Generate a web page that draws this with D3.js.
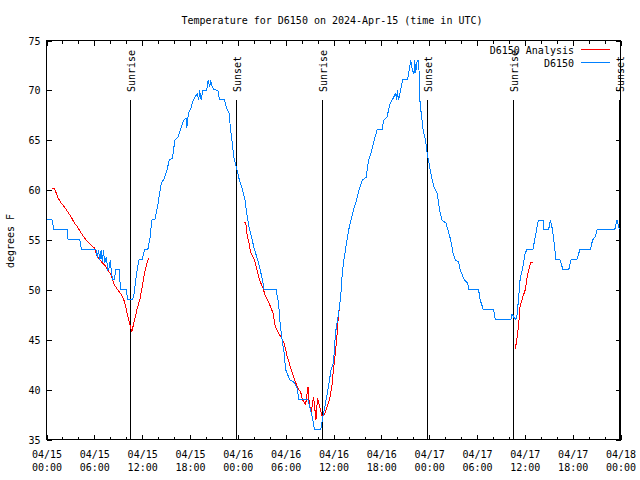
<!DOCTYPE html>
<html><head><meta charset="utf-8">
<script src="https://cdn.jsdelivr.net/npm/d3@7"></script>
<style>
body{margin:0;background:#fff;}
svg{display:block;}
text{font-family:"DejaVu Sans Mono","Liberation Mono",monospace;font-size:10px;fill:#000;}
</style></head>
<body>
<svg id="c" width="640" height="480"></svg>
<script>
const titleText = "Temperature for D6150 on 2024-Apr-15 (time in UTC)";
const yLabel = "degrees F";
const seriesNames = ["D6150 Analysis", "D6150"];
const seriesColors = ["#ff0000", "#0080ff"];
const yTicks = [35, 40, 45, 50, 55, 60, 65, 70, 75];
const startTime = "2024-04-15T00:00:00Z";
const endTime = "2024-04-18T00:00:00Z";

// sun events: hours after start
const sunHours = [10.5, 23.8, 34.54, 47.7, 58.5, 71.83];
const sunLabels = ["Sunrise", "Sunset", "Sunrise", "Sunset", "Sunrise", "Sunset"];

// observed D6150 (hours after start, deg F)
const obsHours = [0.0,0.67,0.9,2.65,2.7,4.15,4.4,6.2,6.4,6.5,6.7,6.85,7.0,7.15,7.3,7.5,7.7,7.9,8.0,8.15,8.3,8.5,8.7,9.1,9.3,10.0,10.2,10.8,11.0,11.3,11.6,12.0,12.3,12.7,13.0,13.2,13.6,14.0,14.4,14.8,15.1,15.4,15.8,16.1,16.5,16.8,17.2,17.5,17.6,17.8,18.1,18.4,18.9,19.1,19.2,19.4,19.6,20.1,20.2,20.3,20.45,20.6,20.8,21.0,21.5,21.7,22.3,22.6,22.9,23.1,23.3,23.5,23.8,24.2,24.6,24.9,25.1,25.4,25.8,26.1,26.5,26.8,27.1,27.3,28.8,29.1,29.3,29.5,29.8,30.0,30.5,31.1,31.5,31.6,32.8,33.1,33.4,33.6,34.4,34.6,34.85,35.3,35.7,36.0,36.25,36.45,36.7,36.9,37.1,37.3,37.5,37.7,37.9,38.2,38.5,38.9,39.2,39.6,40.1,40.4,40.8,41.1,41.5,42.1,42.3,42.7,43.1,43.4,43.8,43.9,44.0,44.15,44.4,44.7,45.3,45.7,45.9,46.1,46.2,46.3,46.5,46.7,46.8,47.0,47.25,47.55,47.75,48.2,48.6,49.0,49.3,49.6,50.1,50.35,50.7,51.0,51.3,51.7,51.9,52.4,52.8,53.0,54.2,54.4,54.8,56.1,56.3,58.25,58.4,58.6,58.8,59.0,59.2,59.4,59.75,60.05,60.25,61.0,61.3,61.7,62.3,62.4,63.0,63.2,63.4,63.6,63.9,64.4,64.8,65.5,65.8,66.5,66.9,68.2,68.5,68.8,69.1,71.3,71.55,71.85];
const obsTemps = [57.1,57.1,56.1,56.1,55.1,55.1,54.0,54.0,53.2,54.0,53.0,54.0,52.8,54.0,52.7,53.3,52.0,52.3,53.0,51.7,51.0,51.0,52.0,52.0,50.0,50.0,49.0,49.0,49.7,51.7,53.0,53.0,54.0,54.0,55.3,57.0,57.1,58.7,60.7,61.2,62.0,63.0,63.2,65.0,65.3,66.1,67.0,67.2,66.2,67.7,68.2,69.0,69.7,69.0,70.0,69.0,70.0,70.0,70.7,71.0,70.3,71.0,70.3,70.1,70.0,69.1,69.1,68.2,67.7,66.0,64.7,63.3,62.3,61.0,60.0,59.0,57.7,56.3,55.0,54.0,53.0,52.0,51.0,50.0,50.0,48.7,46.7,45.3,43.7,42.0,41.0,40.7,40.0,39.0,39.0,38.0,37.0,36.0,36.0,37.0,38.0,40.0,42.0,42.7,45.7,46.7,48.0,49.3,51.7,53.0,54.0,55.0,56.0,57.0,58.0,59.0,60.0,61.0,61.3,63.0,64.0,65.0,66.1,66.1,67.0,67.3,68.7,69.1,69.7,69.0,70.0,69.0,70.0,71.1,71.1,73.0,72.0,71.7,73.0,71.7,73.0,73.0,69.3,67.7,66.0,65.0,63.7,61.7,60.3,59.7,58.0,57.0,56.7,56.0,55.0,53.7,53.0,52.8,52.0,51.0,50.7,50.0,50.0,49.0,48.0,48.0,47.0,47.0,47.6,47.3,47.0,47.3,49.0,51.0,52.3,53.7,54.0,54.0,55.3,57.0,57.0,56.1,56.1,57.0,56.3,55.3,53.0,53.0,52.0,52.0,53.0,53.0,54.0,54.0,55.0,55.3,56.1,56.1,57.0,56.1];

// analysis (hours after start, deg F); null = gap
const anaHours = [0.67,1.0,1.4,1.84,2.26,2.68,3.1,3.5,3.9,4.35,4.77,5.2,5.6,6.0,6.4,6.9,7.3,7.7,8.1,8.5,8.95,9.4,9.8,10.1,10.4,10.7,11.05,11.4,11.7,12.0,12.3,12.6,12.85,
  18.0,
  24.8,25.0,25.2,25.4,25.6,26.1,26.3,26.5,26.7,27.1,27.5,27.9,28.4,28.7,29.0,29.4,29.8,30.2,30.7,31.1,31.5,31.9,32.1,32.5,32.8,32.95,33.2,33.5,33.8,34.0,34.35,34.6,34.85,35.2,35.5,35.8,35.95,36.1,36.4,36.55,36.7,
  45.0,
  58.8,59.0,59.2,59.4,59.75,60.05,60.3,60.7,61.0];
const anaTemps = [60.2,60.2,59.3,58.7,58.3,57.8,57.3,56.7,56.3,55.7,55.2,54.8,54.5,54.2,53.3,52.8,52.5,52.0,51.5,50.5,50.0,49.5,48.8,47.7,46.7,45.8,47.0,48.2,49.0,50.3,51.7,52.7,53.2,
  null,
  56.8,56.7,55.3,54.7,53.8,53.0,52.3,51.7,51.0,50.3,49.3,48.7,47.7,46.3,45.8,45.3,44.7,43.3,42.0,41.0,40.2,39.7,39.0,38.5,40.3,38.7,37.7,39.3,37.0,39.2,38.0,37.3,37.5,38.3,39.0,40.3,41.7,42.7,45.0,46.7,48.0,
  null,
  44.1,45.0,46.3,48.3,49.3,50.0,51.3,52.7,52.8];

const t0 = new Date(startTime);
const toDate = h => new Date(t0.getTime() + h * 3600000);

const svg = d3.select("#c");
const L = 46.5, R = 620.5, T = 40.5, B = 439.5;

const x = d3.scaleUtc().domain([new Date(startTime), new Date(endTime)]).range([L, R]);
const y = d3.scaleLinear().domain([35, 75]).range([B, T]);

svg.append("rect").attr("width", 640).attr("height", 480).attr("fill", "#fff");

// title
svg.append("text").attr("x", 332).attr("y", 24).attr("text-anchor", "middle").text(titleText);

// y label
svg.append("text").attr("transform", "translate(14,241) rotate(-90)").attr("text-anchor", "middle").text(yLabel);

const g = svg.append("g").attr("shape-rendering", "crispEdges");

// minor x ticks (every 2h) bottom/top
const minorTicks = d3.utcHour.every(2).range(new Date(startTime), new Date(endTime));
const majorTicks = d3.utcHour.every(6).range(new Date(startTime), new Date(new Date(endTime).getTime() + 1));

const xb = d3.axisBottom(x).tickValues(minorTicks).tickSizeInner(-3).tickSizeOuter(0).tickFormat("");
g.append("g").attr("transform", `translate(0,${B})`).call(xb).call(s => s.select(".domain").remove());
const xt = d3.axisTop(x).tickValues(minorTicks).tickSizeInner(-3).tickSizeOuter(0).tickFormat("");
g.append("g").attr("transform", `translate(0,${T})`).call(xt).call(s => s.select(".domain").remove());

const xbM = d3.axisBottom(x).tickValues(majorTicks).tickSizeInner(-5).tickSizeOuter(0).tickPadding(0)
  .tickFormat(d3.utcFormat("%m/%d|%H:%M"));
const xbMg = g.append("g").attr("transform", `translate(0,${B})`).call(xbM);
xbMg.select(".domain").remove();
xbMg.selectAll(".tick text").each(function(d) {
  const s = d3.select(this);
  const parts = s.text().split("|");
  s.text("").attr("y", 0).attr("dy", null).attr("fill", "#000")
    .style("font-family", "DejaVu Sans Mono, monospace").style("font-size", "10px");
  s.append("tspan").attr("x", 0).attr("y", 18.5).text(parts[0]);
  s.append("tspan").attr("x", 0).attr("y", 31.5).text(parts[1]);
});
const xtM = d3.axisTop(x).tickValues(majorTicks).tickSizeInner(-5).tickSizeOuter(0).tickFormat("");
g.append("g").attr("transform", `translate(0,${T})`).call(xtM).call(s => s.select(".domain").remove());

// y ticks left/right
const yl = d3.axisLeft(y).tickValues(yTicks).tickSizeInner(-5).tickSizeOuter(0).tickPadding(0).tickFormat(d3.format("d"));
const ylg = g.append("g").attr("transform", `translate(${L},0)`).call(yl);
ylg.select(".domain").remove();
ylg.selectAll(".tick text").attr("x", -6).attr("dy", "0.36em").attr("text-anchor", "end").attr("fill", "#000")
  .style("font-family", "DejaVu Sans Mono, monospace").style("font-size", "10px");
const yr = d3.axisRight(y).tickValues(yTicks).tickSizeInner(-5).tickSizeOuter(0).tickFormat("");
g.append("g").attr("transform", `translate(${R},0)`).call(yr).call(s => s.select(".domain").remove());
g.selectAll(".tick line").attr("stroke", "#000");

// sun lines
const sunG = svg.append("g");
sunHours.forEach((h, i) => {
  const sx = Math.round(x(toDate(h))) + 0.5;
  sunG.append("line").attr("x1", sx).attr("x2", sx).attr("y1", 99.5).attr("y2", B)
    .attr("stroke", "#000").attr("stroke-width", 1).attr("shape-rendering", "crispEdges");
  sunG.append("text").attr("transform", `translate(${sx + 4.5},92) rotate(-90)`).attr("text-anchor", "start").text(sunLabels[i]);
});

// data lines
const obsData = obsHours.map((h, i) => ({ t: toDate(h), v: obsTemps[i] }));
const anaData = anaHours.map((h, i) => ({ t: toDate(h), v: anaTemps[i] }));
const line = d3.line().defined(d => d.v != null).x(d => x(d.t)).y(d => y(d.v));

svg.append("path").datum(anaData).attr("d", line).attr("fill", "none")
  .attr("stroke", seriesColors[0]).attr("stroke-width", 1).attr("shape-rendering", "crispEdges");
svg.append("path").datum(obsData).attr("d", line).attr("fill", "none")
  .attr("stroke", seriesColors[1]).attr("stroke-width", 1).attr("shape-rendering", "crispEdges");

// border
svg.append("rect").attr("x", L).attr("y", T).attr("width", R - L).attr("height", B - T)
  .attr("fill", "none").attr("stroke", "#000").attr("shape-rendering", "crispEdges");

// legend
const legY = [49.5, 62.5];
seriesNames.forEach((n, i) => {
  svg.append("text").attr("x", 574).attr("y", legY[i] + 4).attr("text-anchor", "end").text(n);
  svg.append("line").attr("x1", 581).attr("x2", 610).attr("y1", legY[i]).attr("y2", legY[i])
    .attr("stroke", seriesColors[i]).attr("stroke-width", 1).attr("shape-rendering", "crispEdges");
});
</script>
</body></html>
